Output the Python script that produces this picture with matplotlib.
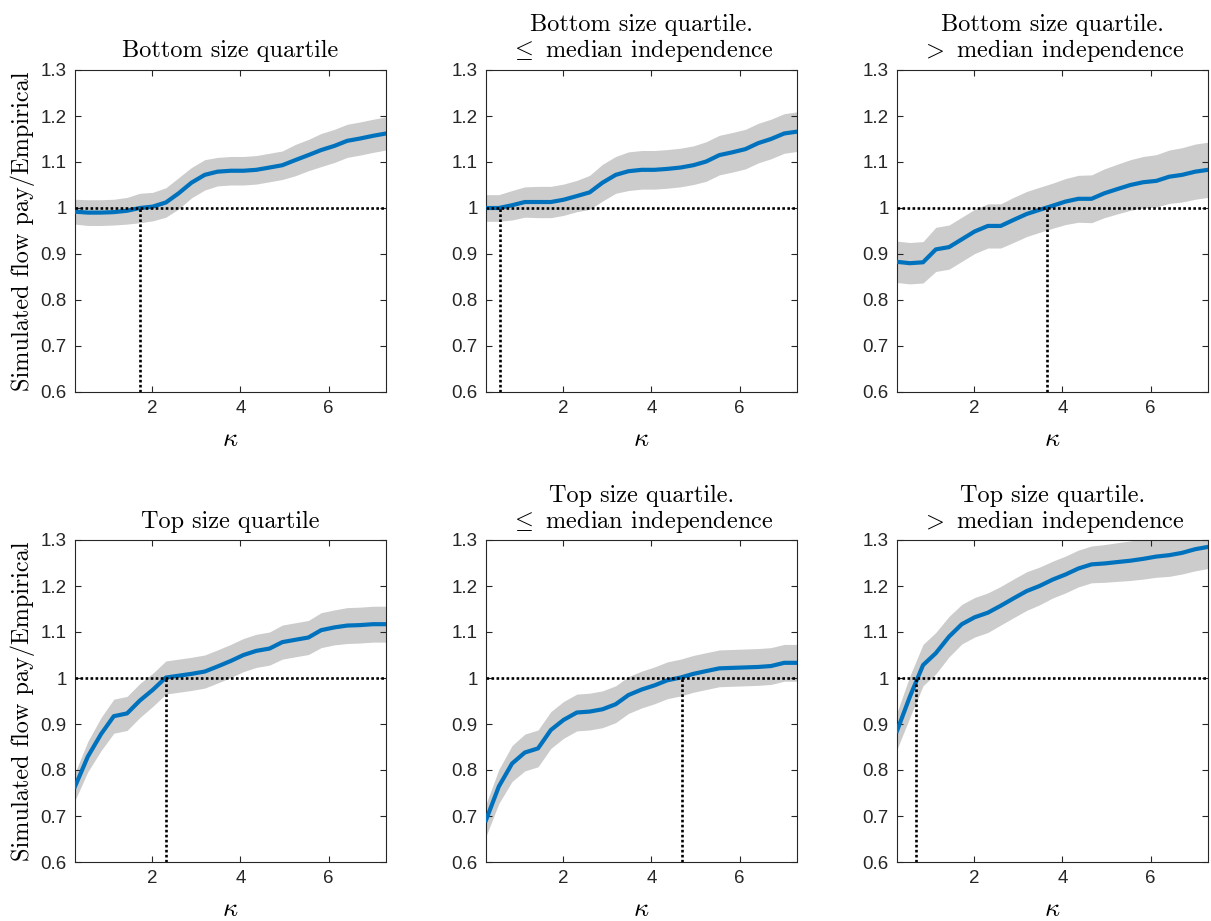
import matplotlib
matplotlib.use("Agg")
import matplotlib.pyplot as plt
from matplotlib.ticker import FixedLocator, FuncFormatter

plt.rcParams['mathtext.fontset'] = 'cm'
plt.rcParams['axes.unicode_minus'] = False

kappa = [0.25, 0.54, 0.84, 1.13, 1.43, 1.72, 2.01, 2.31, 2.60, 2.89, 3.19, 3.48,
         3.78, 4.07, 4.36, 4.66, 4.95, 5.24, 5.54, 5.83, 6.13, 6.42, 6.71, 7.01, 7.30]

titles = [
    "Bottom size quartile",
    "Bottom size quartile.\n$\\leq$ median independence",
    "Bottom size quartile.\n$>$ median independence",
    "Top size quartile",
    "Top size quartile.\n$\\leq$ median independence",
    "Top size quartile.\n$>$ median independence",
]

mean_bottom = [0.992, 0.990, 0.990, 0.991, 0.994, 1.000, 1.003, 1.012, 1.032, 1.055, 1.072, 1.079,
               1.081, 1.081, 1.083, 1.088, 1.093, 1.104, 1.115, 1.126, 1.135, 1.146, 1.151, 1.157, 1.162]
band_bottom = [0.027, 0.028, 0.028, 0.028, 0.029, 0.032, 0.031, 0.032, 0.034, 0.033, 0.033, 0.031,
               0.031, 0.031, 0.031, 0.031, 0.031, 0.034, 0.034, 0.036, 0.036, 0.036, 0.036, 0.036, 0.036]

mean_bottom_lo = [1.000, 1.000, 1.006, 1.013, 1.013, 1.013, 1.018, 1.026, 1.034, 1.055, 1.072, 1.080,
                  1.083, 1.083, 1.085, 1.088, 1.093, 1.101, 1.115, 1.121, 1.128, 1.141, 1.150, 1.162, 1.166]
band_bottom_lo = [0.029, 0.029, 0.032, 0.033, 0.034, 0.034, 0.034, 0.034, 0.037, 0.040, 0.040, 0.042,
                  0.042, 0.042, 0.042, 0.042, 0.042, 0.043, 0.043, 0.043, 0.043, 0.043, 0.043, 0.043, 0.043]

mean_bottom_hi = [0.883, 0.880, 0.882, 0.910, 0.915, 0.932, 0.949, 0.961, 0.961, 0.974, 0.987, 0.996,
                  1.005, 1.014, 1.020, 1.020, 1.032, 1.041, 1.050, 1.056, 1.059, 1.068, 1.072, 1.079, 1.083]
band_bottom_hi = [0.045, 0.045, 0.045, 0.048, 0.048, 0.048, 0.048, 0.048, 0.048, 0.049, 0.049, 0.049,
                  0.049, 0.050, 0.051, 0.052, 0.053, 0.054, 0.055, 0.056, 0.057, 0.058, 0.059, 0.060, 0.060]

mean_top = [0.764, 0.829, 0.878, 0.917, 0.923, 0.951, 0.974, 1.001, 1.005, 1.009, 1.014, 1.025,
            1.037, 1.050, 1.059, 1.064, 1.078, 1.083, 1.088, 1.104, 1.110, 1.114, 1.115, 1.117, 1.117]
band_top = [0.030, 0.033, 0.036, 0.037, 0.037, 0.037, 0.036, 0.036, 0.036, 0.036, 0.036, 0.036,
            0.036, 0.036, 0.036, 0.036, 0.037, 0.037, 0.037, 0.038, 0.038, 0.039, 0.039, 0.039, 0.039]

mean_top_lo = [0.691, 0.764, 0.814, 0.838, 0.847, 0.887, 0.909, 0.925, 0.927, 0.932, 0.943, 0.963,
               0.975, 0.984, 0.995, 1.001, 1.009, 1.015, 1.021, 1.022, 1.023, 1.024, 1.026, 1.033, 1.033]
band_top_lo = [0.035, 0.037, 0.039, 0.040, 0.040, 0.040, 0.040, 0.040, 0.040, 0.040, 0.040, 0.040,
               0.040, 0.040, 0.040, 0.040, 0.040, 0.040, 0.040, 0.040, 0.040, 0.040, 0.040, 0.040, 0.040]

mean_top_hi = [0.885, 0.959, 1.028, 1.054, 1.090, 1.117, 1.132, 1.142, 1.157, 1.173, 1.189, 1.200,
               1.214, 1.225, 1.238, 1.247, 1.249, 1.252, 1.255, 1.259, 1.264, 1.267, 1.272, 1.280, 1.285]
band_top_hi = [0.040, 0.045, 0.045, 0.045, 0.044, 0.043, 0.043, 0.043, 0.042, 0.042, 0.042, 0.041,
               0.040, 0.040, 0.040, 0.040, 0.041, 0.042, 0.043, 0.044, 0.045, 0.046, 0.046, 0.047, 0.047]

crossings = [1.73, 0.57, 3.64, 2.32, 4.70, 0.69]

means = [mean_bottom, mean_bottom_lo, mean_bottom_hi, mean_top, mean_top_lo, mean_top_hi]
bands = [band_bottom, band_bottom_lo, band_bottom_hi, band_top, band_top_lo, band_top_hi]

W, H = 1211, 921
fig = plt.figure(figsize=(W / 100, H / 100), dpi=100)

lefts = [75, 486, 897]
tops = [70, 540]
aw, ah = 311, 322

spine_c = (0.15, 0.15, 0.15)
for k in range(6):
    r, c = divmod(k, 3)
    ax = fig.add_axes([lefts[c] / W, 1 - (tops[r] + ah) / H, aw / W, ah / H])
    m = means[k]
    b = bands[k]
    lo = [mi - bi for mi, bi in zip(m, b)]
    hi = [mi + bi for mi, bi in zip(m, b)]
    ax.fill_between(kappa, lo, hi, color=(0.8, 0.8, 0.8), linewidth=0, zorder=1)
    ax.plot(kappa, m, color='#0072BD', linewidth=3.0, zorder=3)
    ax.plot([0.25, 7.3], [1, 1], color='black', linestyle=(0, (1, 0.9)), linewidth=1.9, zorder=4)
    ax.plot([crossings[k], crossings[k]], [0.6, 1.0], color='black',
            linestyle=(0, (1, 0.9)), linewidth=1.9, zorder=4)
    ax.set_xlim(0.25, 7.3)
    ax.set_ylim(0.6, 1.3)
    ax.xaxis.set_major_locator(FixedLocator([2, 4, 6]))
    ax.yaxis.set_major_locator(FixedLocator([0.6, 0.7, 0.8, 0.9, 1.0, 1.1, 1.2, 1.3]))
    ax.yaxis.set_major_formatter(FuncFormatter(lambda v, p: f"{v:g}"))
    ax.tick_params(direction='in', length=4, width=0.8, top=True, right=True,
                   colors=spine_c, labelsize=13.5, pad=6)
    for lab in ax.get_xticklabels() + ax.get_yticklabels():
        lab.set_fontfamily('Liberation Sans')
    for s in ax.spines.values():
        s.set_color(spine_c)
        s.set_linewidth(0.8)
    ax.set_title(titles[k], fontfamily='cmr10', fontsize=17.5, pad=9, linespacing=1.05)
    ax.set_xlabel(r'$\kappa$', fontsize=19, labelpad=6)
    if c == 0:
        ax.set_ylabel('Simulated flow pay/Empirical', fontfamily='cmr10', fontsize=17.5, labelpad=4)

fig.savefig('out.png', dpi=100)
